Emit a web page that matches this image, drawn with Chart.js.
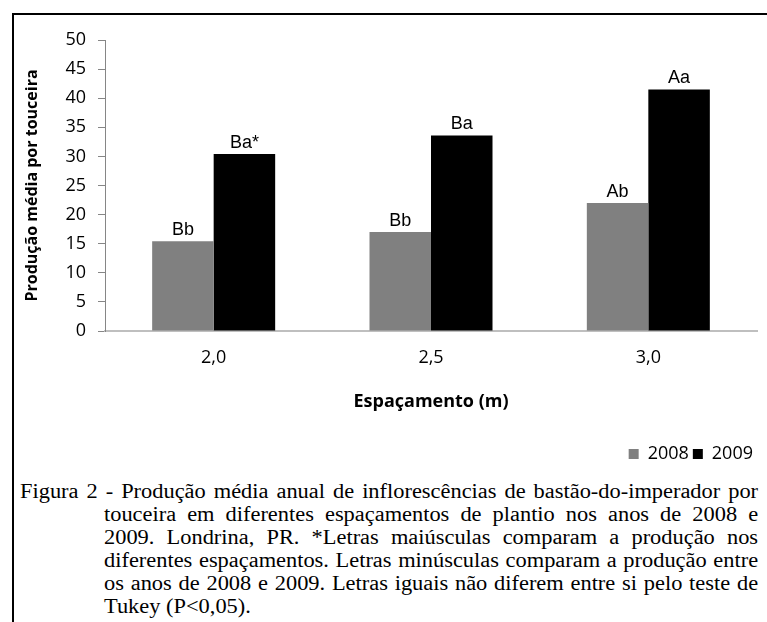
<!DOCTYPE html>
<html>
<head>
<meta charset="utf-8">
<script src="https://cdn.jsdelivr.net/npm/chart.js@4/dist/chart.umd.min.js"></script>
<style>
  html, body { margin: 0; padding: 0; background: #fff; }
  body { width: 767px; height: 622px; position: relative; overflow: hidden; }
  #frame { position: absolute; left: 12px; top: 13px; width: 760px; height: 620px;
           border-left: 2px solid #000; border-top: 2px solid #000; }
  #wrap { position: absolute; left: 0; top: 0; width: 767px; height: 477px; }
  #caption { position: absolute; left: 20px; top: 480px; width: 659px;
             transform: scaleX(1.12); transform-origin: 0 0;
             font-family: "Liberation Serif", "Times New Roman", serif; font-size: 20px;
             line-height: 23px; color: #000; }
  #caption .l { text-align: justify; text-align-last: justify; white-space: nowrap; }
  #caption .i { padding-left: 75px; }
  #caption .last { text-align: left; text-align-last: left; }
</style>
</head>
<body>
<div id="frame"></div>
<div id="wrap"><canvas id="c" width="767" height="477"></canvas></div>
<div id="caption">
  <div class="l">Figura 2 - Produção média anual de inflorescências de bastão-do-imperador por</div>
  <div class="l i">touceira em diferentes espaçamentos de plantio nos anos de 2008 e</div>
  <div class="l i">2009. Londrina, PR. *Letras maiúsculas comparam a produção nos</div>
  <div class="l i">diferentes espaçamentos. Letras minúsculas comparam a produção entre</div>
  <div class="l i">os anos de 2008 e 2009. Letras iguais não diferem entre si pelo teste de</div>
  <div class="l i last">Tukey (P&lt;0,05).</div>
</div>
<script>
const categories = ["2,0", "2,5", "3,0"];
const values2008 = [15.4, 17.0, 22.0];
const values2009 = [30.4, 33.6, 41.5];
const labels2008 = ["Bb", "Bb", "Ab"];
const labels2009 = ["Ba*", "Ba", "Aa"];
const seriesNames = ["2008", "2009"];
const yTicks = [0, 5, 10, 15, 20, 25, 30, 35, 40, 45, 50];

const tickFont = { family: "'Open Sans', sans-serif", size: 18 };

const barLabels = {
  id: 'barLabels',
  afterDatasetsDraw(chart) {
    const ctx = chart.ctx;
    const texts = [labels2008, labels2009];
    ctx.save();
    ctx.font = "18px 'Liberation Sans', Arial, sans-serif";
    ctx.fillStyle = '#000';
    ctx.textAlign = 'center';
    ctx.textBaseline = 'bottom';
    chart.data.datasets.forEach((ds, di) => {
      chart.getDatasetMeta(di).data.forEach((el, i) => {
        ctx.fillText(texts[di][i], el.x, el.y - 2);
      });
    });
    ctx.restore();
  }
};

new Chart(document.getElementById('c'), {
  type: 'bar',
  data: {
    labels: categories,
    datasets: [
      { label: seriesNames[0], data: values2008, backgroundColor: '#808080',
        barPercentage: 1.0, categoryPercentage: 0.566 },
      { label: seriesNames[1], data: values2009, backgroundColor: '#000000',
        barPercentage: 1.0, categoryPercentage: 0.566 }
    ]
  },
  options: {
    responsive: false,
    animation: false,
    devicePixelRatio: 1,
    layout: { padding: { top: 40, right: 10, left: 0, bottom: 4 } },
    plugins: {
      tooltip: { enabled: false },
      legend: {
        position: 'bottom',
        align: 'end',
        labels: {
          boxWidth: 10, boxHeight: 10, color: '#000',
          font: tickFont, padding: 4
        }
      }
    },
    scales: {
      x: {
        grid: { display: true, drawOnChartArea: false, drawTicks: false },
        border: { color: '#BFBFBF', width: 2 },
        ticks: { color: '#000', font: tickFont, padding: 16 },
        title: {
          display: true, text: 'Espaçamento (m)', color: '#000',
          font: { family: "'Open Sans', sans-serif", size: 18, weight: 'bold' },
          padding: { top: 0, bottom: 28 }
        },
        afterFit(scale) { scale.height = 110; }
      },
      y: {
        min: 0, max: 50,
        afterBuildTicks(scale) { scale.ticks = yTicks.map(v => ({ value: v })); },
        grid: { display: true, drawOnChartArea: false, drawTicks: true, tickLength: 7, color: '#868686' },
        border: { color: '#868686', width: 1 },
        ticks: { color: '#000', font: tickFont, padding: 12 },
        title: {
          display: true, text: 'Produção média por touceira', color: '#000',
          font: { family: "'Open Sans', sans-serif", size: 16, weight: 'bold' },
          padding: { top: 23, bottom: 0 }
        },
        afterFit(scale) { scale.width = 105; }
      }
    }
  },
  plugins: [barLabels]
});
</script>
</body>
</html>
